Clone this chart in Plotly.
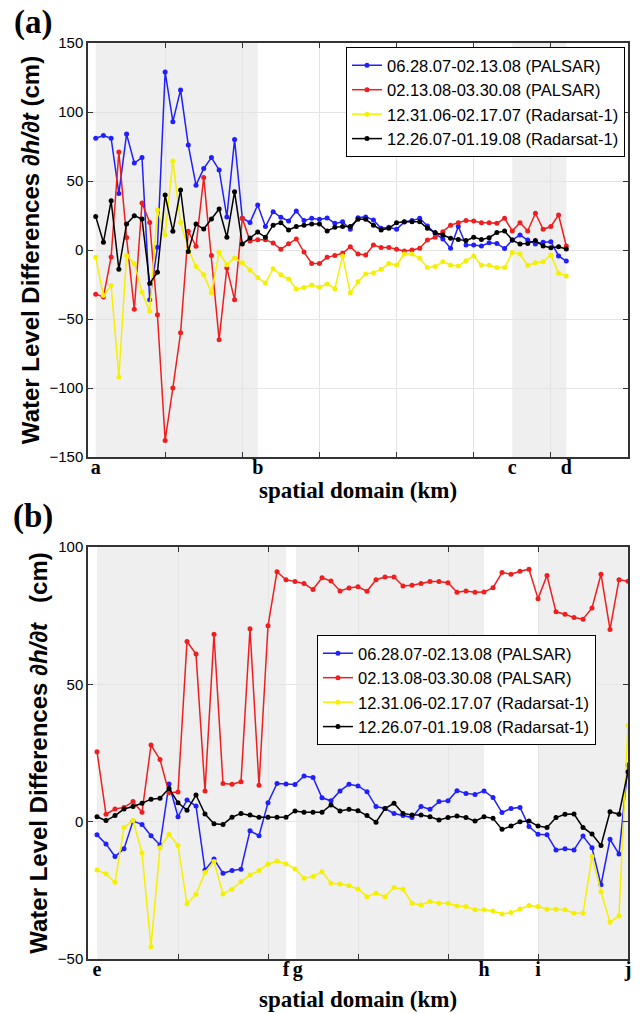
import plotly.graph_objects as go

# ---------------- data ----------------
series_names = ["06.28.07-02.13.08 (PALSAR)", "02.13.08-03.30.08 (PALSAR)",
                "12.31.06-02.17.07 (Radarsat-1)", "12.26.07-01.19.08 (Radarsat-1)"]
series_colors = ["#1f1fff", "#f01e1e", "#f5f000", "#000000"]

# panel (a): sample positions along the profile (axis units)
x_a = [round(0.1 * (k + 1), 1) for k in range(62)]
a_blue = [81, 83, 81, 41, 84, 63, 67, -36, 2, 129, 93, 116, 76, 47, 59, 67, 58, 24, 80, 23, 20,
          32.6, 17, 27.8, 23.7, 21, 28.3, 21.3, 23, 22.2, 23.2, 19.3, 20.5, 15, 23.4, 24, 21.7, 15.7,
          16.4, 15, 20.3, 21.3, 23, 17.4, 12, 8,
          1.2, 17, 3.6, 3.6, 2.9, 5.3, 4.8, 1, 7.2, 10.9, 7.2, 4.3, 5.6, 6, -4.3, -8]
a_red = [-32, -34, -5, 71, 9, -43, 34, 20, -47, -138, -100, -60,
         13.5, 2.7, 52.6, -4, -65, -13, -36, 23, 6.5, 7.5,
         7.5, 5, 0.6, 4.5, 8, -1.5, -9.7, -9.7, -5.3, -3.9, -2.4, 2.4, -2.9, -3.6, 3.6, 1.9, 1.9,
         0.5, -0.7, 0, 1.2, 7.2, 9.2, 13.3,
         18, 19.8, 21.3, 21, 19.8, 19.8, 19.3, 23, 13.8, 19.8, 13.8, 26.6, 15, 17, 25.4, 2.9]
a_yellow = [-5.3, -33, -25.8, -92, -4, -9.7, -30.7, -44.4, 29, 11, 64.5, 20,
            0.7, -12, -17.9, -31, -1.7, -10.6, -5.8, -9.3, -14.5,
            -20, -24, -13.6, -18, -21, -28.2, -27.2, -25.4, -27, -24.6, -28, -4.3, -31, -23, -17.4,
            -16.4, -14, -9.7, -10.9, -2.9, -2.9, -6, -12.6, -12, -8.5,
            -10.9, -11.6, -7.7, -4.3, -11.1, -11.1, -12.6, -12.6, -1.9, -2.9, -11.1, -9.2, -8.5,
            -3.6, -16.9, -18.8]
a_black = [24.2, 5.6, 35.7, -14, 18.8, 24.9, 22.5, -24.2, -16.2, 39.8, 13.5, 43.5,
           -1, 18.8, 15.2, 22.5, 29.7, 9.2, 42.3, 4.3, 8.7,
           13, 9.2, 18, 19.8, 14.5, 17, 18, 18.8, 18.8, 13.8, 16.4, 17, 17, 22.2, 22.2, 18, 14.5,
           15.7, 19.8, 20.5, 20.5, 20.5, 15.7, 12.6, 10.9,
           8.5, 7.7, 6.8, 9.2, 7.7, 8.9, 12.6, 13.8, 7.2, 4.3, 4.8, 6.8, 2.9, 1.7, 2.4, 0.7]

# panel (b)
x_b = [round(0.1 * (k + 1), 1) for k in range(60)]
b_blue = [-4.8, -8.1, -12.7, -9.9, 0.2, -1, -5.1, -8.5, 13.7, 1.8, 7.9, 5.7, -17.6, -13.6, -18.8,
          -17.8, -17.3, -3.3, -5.1, 6.9, 13.9, 13.7, 13.5, 16.6, 16.1,
          8.7, 7.6, 11.2, 13.6, 13, 10.9, 5.5, 4.8, 3, 2.2, 1.5, 5.5, 4.5, 7.3, 7.6, 11.3, 10.3, 9.9,
          11.2, 8.8, 3.3, 4.8, 5.2, -1.8, -4.6, -4.8, -10.3, -9.9, -10.3, -5.2, -9.5, -23, -6.4,
          -11.8, 20.6]
b_red = [25.5, 2.7, 4.6, 5.2, 7.3, 3.4, 27.9, 22.6, 10.5, 10.8, 65.6, 61, 11.2, 68.2, 13.9, 13.6,
         14.5, 70.2, 13.3, 71.3, 91, 88.1, 87.4, 86.7, 84.5,
         88.8, 87.6, 84, 85.1, 85.5, 83.9, 88.1, 89.1, 89.1, 85.8, 86.1, 86.7, 87.4, 87.4, 87, 83.5,
         84, 83.5, 83.6, 85.2, 90.7, 90.1, 91.2, 91.9, 81.2, 89.6, 76.4, 75.5, 74.3, 73.7, 77.8,
         90.1, 70, 88.1, 87.5]
b_yellow = [-17.6, -19, -22.1, -2.1, 0.4, -11.3, -45.5, -9.5, -4.6, -8.7, -29.9, -26.4, -18.5,
            -14.5, -26.3, -24.6, -21.8, -19.4, -17.8, -15.5, -14.3, -15.4, -17.2, -20.6, -20,
            -18.2, -22.4, -22.7, -23.3, -24.5, -27.3, -26.1, -27.3, -24, -24.6, -29.7, -30.3, -29.1,
            -29.7, -29.7, -30.7, -30.9, -32.1, -32.1, -32.5, -33.6, -33.1, -31.8, -30.5, -30.9,
            -31.9, -31.9, -32.1, -33.3, -33.3, -12.7, -25.5, -36.6, -34.3, 35]
b_black = [1.8, 0.4, 2.2, 4.6, 5.5, 6.7, 8.2, 8.5, 12.1, 6.9, 4.2, 9.7, 2.8, -0.8, -1, 1.6, 3, 2.4,
           1.6, 1.6, 1.6, 1.6, 3.9, 3.4, 3.4,
           3.4, 6.1, 3.9, 4.5, 4, 2.2, -0.2, 4.8, 6.7, 3, 2.4, 2.4, 1.8, 0.6, 1.5, 2.1, 1.5, 0.2,
           1.8, 1.2, -2.8, -1.6, 0, 0.2, -1.6, -2.1, 1.5, 2.7, 2.8, -2.1, -4.5, -8.7, 3.6, 2.7, 18.2]

# profile marks and shaded segments
marks_a = ["a", "b", "c", "d"]
marks_a_pos = [0.1, 2.2, 5.5, 6.2]
shade_a = [(0.1, 2.2), (5.5, 6.2)]
marks_b = ["e", "f", "g", "h", "i", "j"]
marks_b_pos = [0.1, 2.2, 2.33, 4.4, 5.0, 6.0]
shade_b = [(0.1, 2.2), (2.31, 4.4), (5.0, 6.0)]

# ---------------- figure ----------------
fig = go.Figure()

for ys, name, col in zip([a_blue, a_red, a_yellow, a_black], series_names, series_colors):
    fig.add_trace(go.Scatter(x=x_a, y=ys, name=name, mode="lines+markers",
                             line=dict(color=col, width=1.5), marker=dict(color=col, size=5),
                             xaxis="x", yaxis="y", legend="legend"))
for ys, name, col in zip([b_blue, b_red, b_yellow, b_black], series_names, series_colors):
    fig.add_trace(go.Scatter(x=x_b, y=ys, name=name, mode="lines+markers",
                             line=dict(color=col, width=1.5), marker=dict(color=col, size=5),
                             xaxis="x2", yaxis="y2", legend="legend2"))

shapes = []
for x0, x1 in shade_a:
    shapes.append(dict(type="rect", xref="x", yref="y domain", x0=x0, x1=x1, y0=0, y1=1,
                       fillcolor="#efefef", line=dict(width=0), layer="below"))
for x0, x1 in shade_b:
    shapes.append(dict(type="rect", xref="x2", yref="y2 domain", x0=x0, x1=x1, y0=0, y1=1,
                       fillcolor="#efefef", line=dict(width=0), layer="below"))

frame = dict(showline=True, linecolor="#333333", linewidth=1.5, mirror="ticks",
             zeroline=False, automargin=False)
tickfont_x = dict(family="Liberation Serif", size=20, color="black", weight="bold")
xtitle_font = dict(family="Liberation Serif", size=23, color="black", weight="bold")
ytick_font = dict(family="Liberation Sans", size=15, color="black")
ytitle_font = dict(family="Liberation Sans", size=24, color="black", weight="bold")
legend_font = dict(family="Liberation Sans", size=16.5, color="black")

fig.update_layout(
    width=640, height=1014,
    margin=dict(l=88, r=12, t=43, b=55),
    paper_bgcolor="white", plot_bgcolor="white",
    shapes=shapes,
    xaxis=dict(domain=[0, 1], anchor="y", range=[0, 7], tickmode="array",
               tickvals=marks_a_pos, ticktext=marks_a, ticks="", showgrid=False,
               tickfont=tickfont_x, ticklabelstandoff=-9,
               title=dict(text="spatial domain (km)", font=xtitle_font, standoff=2),
               minor=dict(tickmode="array", tickvals=[1, 2, 3, 4, 5, 6], showgrid=True,
                          gridcolor="#e4e4e4", gridwidth=1, ticks="inside", ticklen=5,
                          tickcolor="#333333"),
               **frame),
    yaxis=dict(domain=[0.54803, 1], anchor="x", range=[-150, 150], tickmode="array",
               tickvals=[-150, -100, -50, 0, 50, 100, 150], ticks="inside", ticklen=5,
               tickcolor="#333333", showgrid=True, gridcolor="#e4e4e4", tickfont=ytick_font,
               title=dict(text="Water Level Differences <i>∂h/∂t</i> (cm)",
                          font=ytitle_font, standoff=3),
               **frame),
    xaxis2=dict(domain=[0, 1], anchor="y2", range=[0, 6], tickmode="array",
                tickvals=marks_b_pos, ticktext=marks_b, ticks="", showgrid=False,
                tickfont=tickfont_x, ticklabelstandoff=-9,
                title=dict(text="spatial domain (km)", font=xtitle_font, standoff=11),
                minor=dict(tickmode="array", tickvals=[1, 2, 3, 4, 5], showgrid=True,
                           gridcolor="#e4e4e4", gridwidth=1, ticks="inside", ticklen=5,
                           tickcolor="#333333"),
                **frame),
    yaxis2=dict(domain=[0, 0.44978], anchor="x2", range=[-50, 100], tickmode="array",
                tickvals=[-50, 0, 50, 100], ticks="inside", ticklen=5, tickcolor="#333333",
                showgrid=True, gridcolor="#e4e4e4", tickfont=ytick_font,
                title=dict(text="Water Level Differences <i>∂h/∂t</i>\u00a0\u00a0 (cm)",
                           font=ytitle_font, standoff=3),
                **frame),
    legend=dict(x=0.9944, y=0.9956, xanchor="right", yanchor="top", bgcolor="white",
                bordercolor="black", borderwidth=1, font=legend_font,
                itemwidth=30, tracegroupgap=0),
    legend2=dict(x=0.424, y=0.3537, xanchor="left", yanchor="top", bgcolor="white",
                 bordercolor="black", borderwidth=1, font=legend_font,
                 itemwidth=30, tracegroupgap=0),
    annotations=[
        dict(text="(a)", xref="paper", yref="paper", x=-0.14, y=1.022, xanchor="left",
             yanchor="middle", showarrow=False,
             font=dict(family="Liberation Serif", size=33, color="black", weight="bold")),
        dict(text="(b)", xref="paper", yref="paper", x=-0.143, y=0.4835, xanchor="left",
             yanchor="middle", showarrow=False,
             font=dict(family="Liberation Serif", size=33, color="black", weight="bold")),
    ],
)

fig.write_html("out.html", config={"displayModeBar": False},
               post_script="document.body.style.margin='0';document.body.style.padding='0';")
